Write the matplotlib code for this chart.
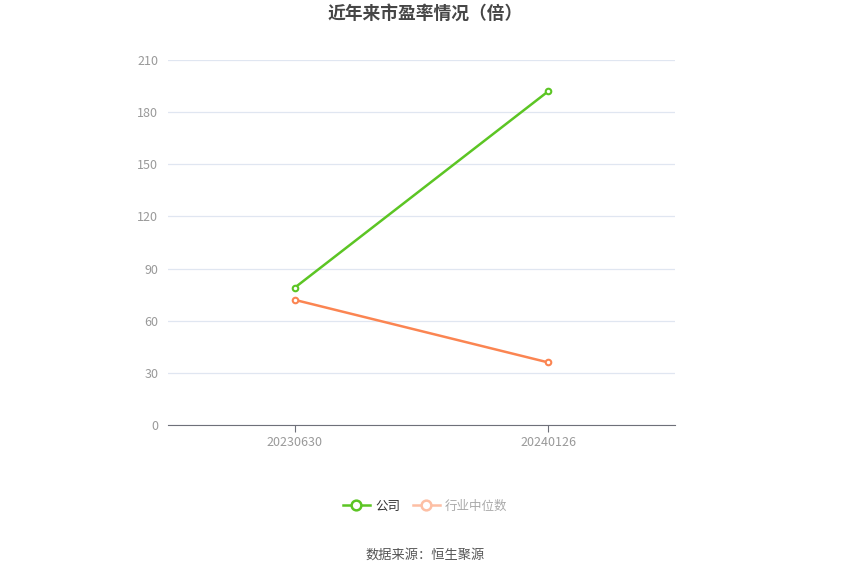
"""
PE ratio chart: company vs industry median.
"""

from matplotlib import pyplot as plt
from matplotlib.lines import Line2D

plt.rcParams["font.family"] = ["Noto Sans CJK SC", "DejaVu Sans"]

dates = ["20230630", "20240126"]
company = [79, 192]
industry = [72, 36]
y_ticks = [0, 30, 60, 90, 120, 150, 180, 210]

green = "#5cc524"
orange = "#fb8552"


def _main():
    fig = plt.figure(figsize=(8.5, 5.75), dpi=100)
    ax = fig.add_axes([168 / 850, 1 - 425 / 575, (675 - 168) / 850, (425 - 60) / 575])

    x = list(range(len(dates)))
    ax.plot(x, company, color=green, lw=1.8, marker="o", ms=4,
            mfc="white", mec=green, mew=1.5, zorder=3)
    ax.plot(x, industry, color=orange, lw=1.8, marker="o", ms=4,
            mfc="white", mec=orange, mew=1.5, zorder=3)

    ax.set_xlim(-0.5, len(dates) - 0.5)
    ax.set_ylim(0, 210)
    ax.set_xticks(x)
    ax.set_xticklabels(dates)
    ax.set_yticks(y_ticks)
    ax.grid(axis="y", color="#e0e6f1", lw=0.9)
    ax.set_axisbelow(True)
    for side in ["top", "right", "left"]:
        ax.spines[side].set_visible(False)
    ax.spines["bottom"].set_color("#6e7079")
    ax.tick_params(axis="y", length=0, labelsize=9, labelcolor="#999999", pad=7)
    ax.tick_params(axis="x", length=5, color="#6e7079", labelsize=9,
                   labelcolor="#999999", pad=3)

    fig.text(0.5, 1 - 14 / 575, "近年来市盈率情况（倍）", ha="center", va="center",
             fontsize=12.8, fontweight="bold", color="#464646")

    handles = [
        Line2D([0], [0], color=green, lw=1.8, marker="o", ms=7, mfc="white", mec=green, mew=1.8),
        Line2D([0], [0], color="#fdbfa4", lw=1.8, marker="o", ms=7, mfc="white", mec="#fdbfa4", mew=1.8),
    ]
    leg = fig.legend(handles, ["公司", "行业中位数"], loc="center",
                     bbox_to_anchor=(0.5, 1 - 506 / 575), ncol=2, frameon=False,
                     fontsize=9, handlelength=2.2, handletextpad=0.4, columnspacing=1.0)
    leg.get_texts()[0].set_color("#333333")
    leg.get_texts()[1].set_color("#aaaaaa")

    fig.text(0.5, 1 - 555 / 575, "数据来源：恒生聚源", ha="center", va="center",
             fontsize=9.5, color="#555555")

    fig.savefig("out.png", dpi=100)


if __name__ == "__main__":
    _main()
